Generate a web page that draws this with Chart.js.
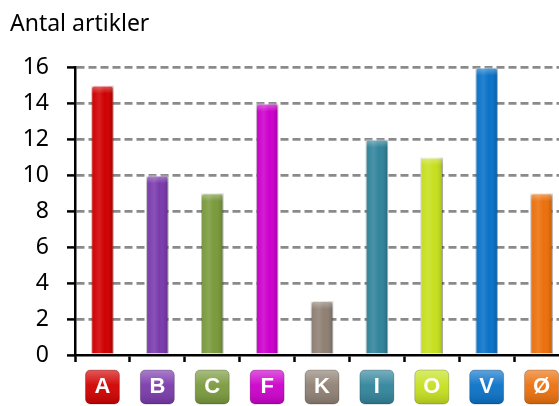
<!DOCTYPE html>
<html>
<head>
<meta charset="utf-8">
<script src="https://cdn.jsdelivr.net/npm/chart.js@4.4.1/dist/chart.umd.min.js"></script>
<style>
  html, body { margin: 0; padding: 0; background: #fff; overflow: hidden; }
  #wrap { width: 580px; height: 406px; }
</style>
</head>
<body>
<div id="wrap"><canvas id="myChart"></canvas></div>
<script>
// Data
const categories = ['A', 'B', 'C', 'F', 'K', 'I', 'O', 'V', 'Ø'];
const articleCounts = [15, 10, 9, 14, 3, 12, 11, 16, 9];
const yTicks = [0, 2, 4, 6, 8, 10, 12, 14, 16];

// One colour per category (bars and label boxes)
const barColors = ['#d00000', '#7a3aac', '#7a9a3c', '#cc00cc', '#8f8073',
                   '#31849b', '#c6e01e', '#0a72c8', '#ec700c'];

function roundRect(ctx, x, y, w, h, r) {
    ctx.beginPath();
    ctx.moveTo(x + r, y);
    ctx.arcTo(x + w, y, x + w, y + h, r);
    ctx.arcTo(x + w, y + h, x, y + h, r);
    ctx.arcTo(x, y + h, x, y, r);
    ctx.arcTo(x, y, x + w, y, r);
    ctx.closePath();
}

// Draw coloured rounded boxes behind the x tick labels
const labelBoxes = {
    id: 'labelBoxes',
    beforeDraw(chart) {
        const ctx = chart.ctx;
        const xScale = chart.scales.x;
        const bottom = chart.chartArea.bottom;
        ctx.save();
        categories.forEach((c, i) => {
            const cx = xScale.getPixelForValue(i);
            const w = 34, h = 34;
            const x = cx - w / 2, y = bottom + 15;
            const g = ctx.createLinearGradient(0, y, 0, y + h);
            g.addColorStop(0, 'rgba(255,255,255,0.35)');
            g.addColorStop(0.45, 'rgba(255,255,255,0.05)');
            g.addColorStop(1, 'rgba(0,0,0,0.15)');
            roundRect(ctx, x, y, w, h, 5);
            ctx.fillStyle = barColors[i];
            ctx.fill();
            ctx.fillStyle = g;
            ctx.fill();
            ctx.strokeStyle = 'rgba(0,0,0,0.2)';
            ctx.lineWidth = 1;
            ctx.stroke();
        });
        ctx.restore();
    }
};

// Give the bars a rounded, cylinder-like shading
const barShade = {
    id: 'barShade',
    afterDatasetsDraw(chart) {
        const ctx = chart.ctx;
        const meta = chart.getDatasetMeta(0);
        ctx.save();
        meta.data.forEach(bar => {
            const left = bar.x - bar.width / 2;
            const g = ctx.createLinearGradient(left, 0, left + bar.width, 0);
            g.addColorStop(0, 'rgba(0,0,0,0.15)');
            g.addColorStop(0.12, 'rgba(255,255,255,0.03)');
            g.addColorStop(0.35, 'rgba(255,255,255,0.12)');
            g.addColorStop(0.6, 'rgba(255,255,255,0)');
            g.addColorStop(0.9, 'rgba(0,0,0,0.1)');
            g.addColorStop(1, 'rgba(0,0,0,0.25)');
            ctx.fillStyle = g;
            ctx.fillRect(left, bar.y, bar.width, bar.base - bar.y);
            // lighter cap at the top
            const cap = ctx.createLinearGradient(0, bar.y, 0, bar.y + 8);
            cap.addColorStop(0, 'rgba(255,255,255,0.35)');
            cap.addColorStop(1, 'rgba(255,255,255,0)');
            ctx.fillStyle = cap;
            ctx.fillRect(left, bar.y, bar.width, Math.min(8, bar.base - bar.y));
        });
        ctx.restore();
    }
};

const ctx = document.getElementById('myChart').getContext('2d');
const myChart = new Chart(ctx, {
    type: 'bar',
    data: {
        labels: categories,
        datasets: [{
            data: articleCounts,
            backgroundColor: barColors,
            borderColor: 'rgba(0,0,0,0.15)',
            borderWidth: 1,
            borderSkipped: 'bottom',
            borderRadius: { topLeft: 3, topRight: 3 },
            barPercentage: 0.41,
            categoryPercentage: 1
        }]
    },
    options: {
        responsive: true,
        maintainAspectRatio: false,
        animation: false,
        devicePixelRatio: 1,
        layout: { padding: { left: 10, right: 11, top: 0, bottom: 0 } },
        plugins: {
            legend: { display: false },
            tooltip: { enabled: false },
            title: {
                display: true,
                text: 'Antal artikler',
                align: 'start',
                color: '#000',
                font: { family: 'Noto Sans', size: 23, weight: 'normal' },
                padding: { top: 11, bottom: 29 }
            }
        },
        scales: {
            x: {
                z: 1,
                offset: true,
                border: { color: '#000', width: 2.5 },
                grid: {
                    offset: true,
                    drawOnChartArea: false,
                    drawTicks: true,
                    tickLength: 7,
                    tickColor: '#000',
                    tickWidth: 2.5
                },
                ticks: {
                    color: '#fff',
                    padding: 12,
                    font: { family: 'Liberation Sans', size: 22, weight: 'bold' }
                },
                afterFit(scale) { scale.height = 51; }
            },
            y: {
                min: 0,
                max: 16,
                afterBuildTicks(scale) {
                    scale.ticks = yTicks.map(v => ({ value: v }));
                },
                border: { color: '#000', width: 2.5, dash: [8, 4] },
                grid: {
                    color: c => c.tick && c.tick.value === 0 ? 'rgba(0,0,0,0)' : '#8a8a8a',
                    lineWidth: 2.8,
                    tickColor: '#000',
                    tickLength: 8,
                    tickWidth: 2.5,
                    tickBorderDash: []
                },
                ticks: {
                    color: '#000',
                    padding: 18,
                    font: { family: 'Noto Sans', size: 23 }
                },
                afterFit(scale) { scale.width = 65; }
            }
        }
    },
    plugins: [labelBoxes, barShade]
});
</script>
</body>
</html>
